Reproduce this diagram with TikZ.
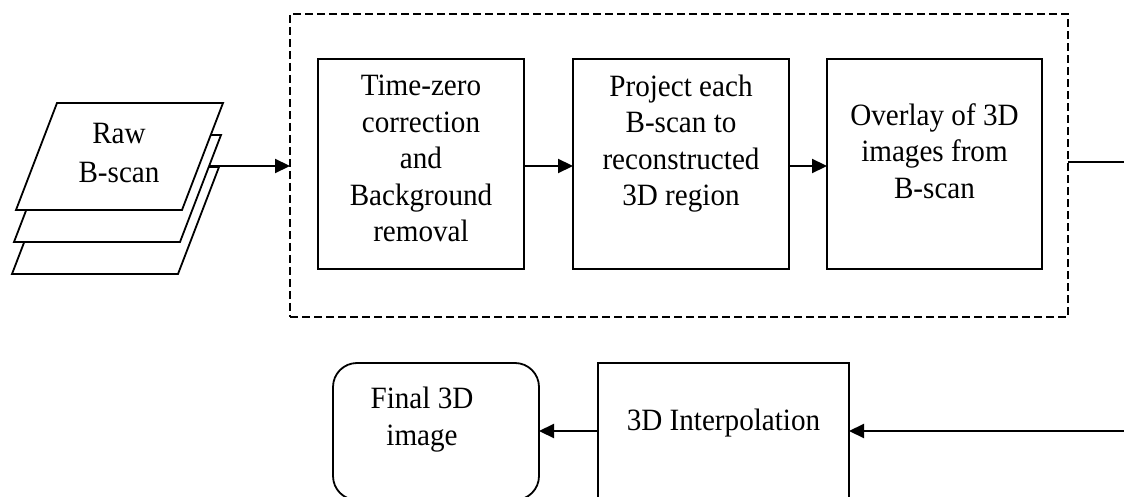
\documentclass[tikz,border=0pt]{standalone}
\usepackage{fontspec}
\setmainfont{Liberation Serif}[FakeStretch=0.94]
\usetikzlibrary{arrows.meta}
\begin{document}
\begin{tikzpicture}[x=1pt,y=-1pt,
  box/.style={draw, line width=1.8pt, inner sep=0pt, outer sep=0pt, fill=white},
  grpbox/.style={draw, line width=2.2pt, dash pattern=on 8pt off 4pt, inner sep=0pt, outer sep=0pt},
  txt/.style={align=center, font=\fontsize{31}{36.5}\selectfont, inner sep=0pt},
  sheet/.style={draw, line width=1.8pt, fill=white, line join=miter},
  arr/.style={line width=2.2pt, -{Triangle[length=15pt,width=14pt]}},
  thin/.style={line width=1.1pt}]
\useasboundingbox (0,0) rectangle (1124,497);
\clip (0,0) rectangle (1124,497);
% stacked raw B-scan sheets
\draw[sheet] (53,167) -- (219,167) -- (178,274) -- (12,274) -- cycle;
\draw[sheet] (55,135) -- (221,135) -- (180,242) -- (14,242) -- cycle;
\draw[sheet] (57,103) -- (223,103) -- (182,210) -- (16,210) -- cycle;
\node[txt, font=\fontsize{31}{39}\selectfont] (raw) at (119,153) {Raw\\B-scan};
\coordinate (rawout) at (210,166);
% dashed group
\node[grpbox, minimum width=778, minimum height=303] (grp) at (679,165.5) {};
% process boxes
\node[box, minimum width=206, minimum height=210] (b1) at (421,164) {};
\node[box, minimum width=216, minimum height=210] (b2) at (681,164) {};
\node[box, minimum width=215, minimum height=210] (b3) at (934.5,164) {};
\node[txt] (t1) at (421,158.5) {Time-zero\\correction\\and\\Background\\removal};
\node[txt] (t2) at (681,143.6) {Project each\\B-scan to\\reconstructed\\3D region};
\node[txt] (t3) at (934.5,151) {Overlay of 3D\\images from\\B-scan};
% bottom row
\node[box, minimum width=251, minimum height=157] (interp) at (723.5,441.5) {};
\node[txt] (ti) at (723.5,422.9) {3D Interpolation};
\node[box, rounded corners=24pt, minimum width=206, minimum height=137] (final) at (436,431.5) {};
\node[txt] (tf) at (422,419.4) {Final 3D\\image};
% helper coordinates
\coordinate (ya) at (0,166);
\coordinate (yb) at (0,162);
\coordinate (yc) at (0,431);
\coordinate (edgeR) at (1124,162);
\coordinate (edgeB) at (1124,431);
% connectors
\draw[arr] (rawout) -- (grp.west |- rawout);
\draw[arr] (b1.east |- ya) -- (b2.west |- ya);
\draw[arr] (b2.east |- ya) -- (b3.west |- ya);
\draw[thin] (grp.east |- yb) -- (edgeR);
\draw[arr] (edgeB) -- (interp.east |- yc);
\draw[arr] (interp.west |- yc) -- (final.east |- yc);
\end{tikzpicture}
\end{document}
